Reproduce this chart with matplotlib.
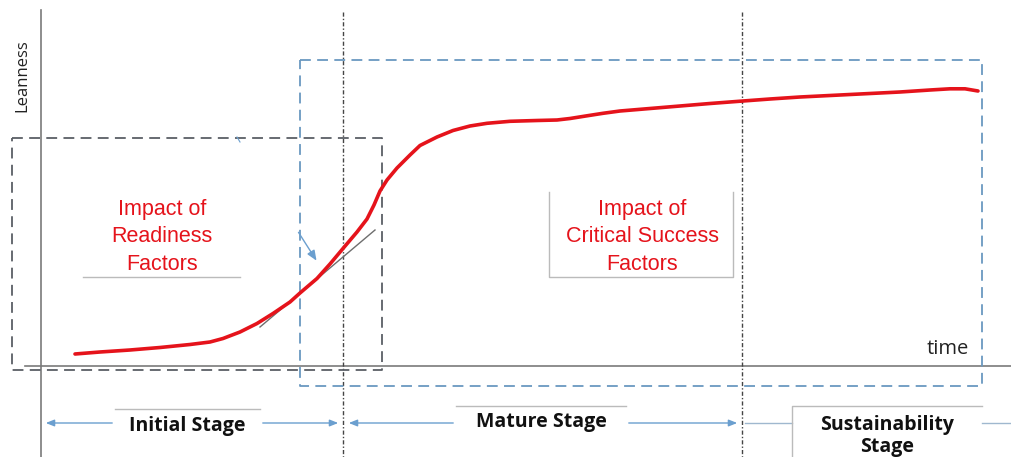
import matplotlib.pyplot as plt

# leanness curve (x = time, y = height in pixel units, y grows down)
curve_time = [75, 100, 130, 160, 190, 210, 223, 240, 257, 273, 290, 300, 317, 330,
              343, 357, 367, 374, 380, 387, 397, 410, 420, 437, 453, 470, 487,
              510, 537, 557, 570, 587, 603, 620, 650, 680, 710, 743, 770, 800,
              850, 900, 930, 950, 965, 978]
curve_lean = [354, 352, 350, 347.5, 344.5, 342, 338.5, 332, 323.5, 313.5, 302, 293, 278.5, 264,
              248.5, 232, 219, 205, 191, 180, 168, 155, 145.5, 137, 130.5, 126, 123.3,
              121.3, 120.5, 120, 118.5, 115.8, 113.3, 111, 108.5, 106, 103.5, 101, 99, 97,
              94.5, 92, 90, 88.8, 88.8, 91]

stages = ["Initial Stage", "Mature Stage", "Sustainability\nStage"]
stage_bounds = [41, 343, 742, 1011]
impact_labels = ["Impact of\nReadiness\nFactors", "Impact of\nCritical Success\nFactors"]

red = "#e5131b"
blue = "#6b9fcf"
axis_grey = "#7a7a7a"

fig = plt.figure(figsize=(10.11, 4.57), dpi=100)
ax = fig.add_axes([0, 0, 1, 1])
ax.set_xlim(0, 1011)
ax.set_ylim(457, 0)
ax.axis("off")

# axes of the diagram
ax.plot([41, 41], [10, 457], color=axis_grey, lw=1.2)
ax.plot([25, 1011], [366, 366], color=axis_grey, lw=1.2)
ax.text(22, 76, "Leanness", rotation=90, ha="center", va="center",
        fontsize=12, family="Open Sans", color="#222222")
ax.text(948, 349, "time", ha="center", va="center", fontsize=14.5,
        family="Open Sans", color="#222222")

# stage separators
for xb in stage_bounds[1:3]:
    ax.plot([xb, xb], [12, 457], color="#444444", lw=1, linestyle=(0, (3, 1.5, 1, 1.5)))

# dashed boxes
ax.plot([12, 382, 382, 12, 12], [138, 138, 370, 370, 138], color="#5a5f66",
        lw=1.3, linestyle=(0, (6, 3.5)))
ax.plot([300, 982, 982, 300, 300], [60, 60, 386, 386, 60], color="#6a98c0",
        lw=1.3, linestyle=(0, (6, 3.5)))

# tangent line and pointer
ax.plot([260, 375], [327, 230], color="#6e6e6e", lw=1)
ax.annotate("", xy=(318, 263), xytext=(297, 230),
            arrowprops=dict(arrowstyle="-|>,head_length=0.6,head_width=0.25",
                            color=blue, lw=1))
ax.plot([237, 240], [137, 142], color=blue, lw=0.8)

# the curve
ax.plot(curve_time, curve_lean, color=red, lw=2.6, solid_capstyle="round",
        solid_joinstyle="round")

# impact labels
ax.text(162, 237, impact_labels[0], color=red, ha="center", va="center",
        fontsize=15.5, family="Liberation Sans", linespacing=1.42)
ax.plot([83, 240], [277, 277], color="#bbbbbb", lw=1)
ax.text(642, 237, impact_labels[1], color=red, ha="center", va="center",
        fontsize=15.5, family="Liberation Sans", linespacing=1.42)
ax.plot([549, 549, 733, 733], [192, 277, 277, 192], color="#bbbbbb", lw=1)

# stage arrows
ya = 423
arr = dict(arrowstyle="-|>,head_length=0.5,head_width=0.2", color=blue, lw=1)
# initial
ax.annotate("", xy=(43, ya), xytext=(115, ya), arrowprops=arr)
ax.annotate("", xy=(341, ya), xytext=(260, ya), arrowprops=arr)
# mature
ax.annotate("", xy=(346, ya), xytext=(456, ya), arrowprops=arr)
ax.annotate("", xy=(740, ya), xytext=(626, ya), arrowprops=arr)
# sustainability
ax.plot([745, 792], [ya, ya], color="#9fb8cf", lw=1)
ax.plot([982, 1011], [ya, ya], color="#9fb8cf", lw=1)

ax.plot([115, 260], [409, 409], color="#bbbbbb", lw=1)
ax.plot([456, 626], [406, 406], color="#bbbbbb", lw=1)
ax.plot([792, 792, 982], [457, 406, 406], color="#bbbbbb", lw=1)

stage_text_pos = [(187, 426), (541, 422), (887, 436)]
for label, (tx, ty) in zip(stages, stage_text_pos):
    ax.text(tx, ty, label, ha="center", va="center", fontsize=14,
            family="Open Sans", fontweight="bold", color="#111111", linespacing=1.12)

fig.savefig("out.png", dpi=100)
